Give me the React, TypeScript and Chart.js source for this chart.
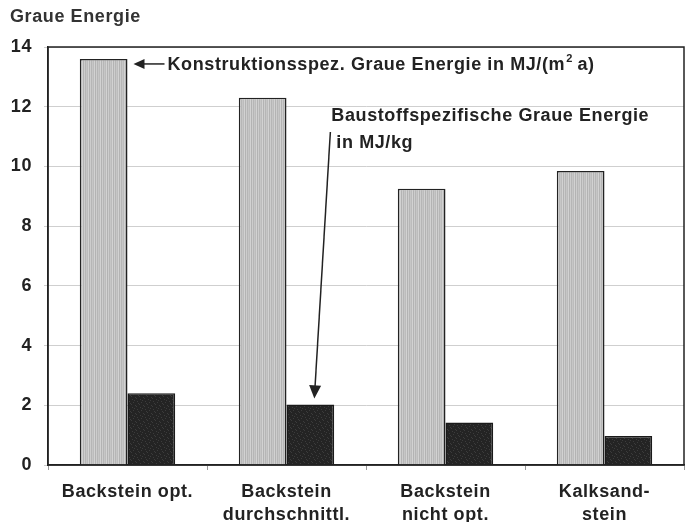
import React, { useEffect, useRef } from "react";
import { Chart, registerables } from "chart.js";

Chart.register(...registerables);

const categories: string[][] = [
  ["Backstein opt."],
  ["Backstein", "durchschnittl."],
  ["Backstein", "nicht opt."],
  ["Kalksand-", "stein"],
];
const konstruktionsspez: number[] = [13.6, 12.3, 9.25, 9.85];
const baustoffspez: number[] = [2.4, 2.03, 1.42, 0.97];
const yTicks: number[] = [0, 2, 4, 6, 8, 10, 12, 14];

const FONT = "'Liberation Sans', Arial, sans-serif";
const SPACING = "0.6px";

function makeStripePattern(): CanvasPattern | string {
  const c = document.createElement("canvas");
  c.width = 6;
  c.height = 2;
  const ctx = c.getContext("2d");
  if (!ctx) return "#c2c2c2";
  const cols = ["#cdcdcd", "#b6b6b6", "#c6c6c6", "#bcbcbc", "#d2d2d2", "#b3b3b3"];
  cols.forEach((col, i) => {
    ctx.fillStyle = col;
    ctx.fillRect(i, 0, 1, 2);
  });
  return ctx.createPattern(c, "repeat") || "#c2c2c2";
}

function makeSpecklePattern(): CanvasPattern | string {
  const c = document.createElement("canvas");
  c.width = 8;
  c.height = 8;
  const ctx = c.getContext("2d");
  if (!ctx) return "#262626";
  ctx.fillStyle = "#242424";
  ctx.fillRect(0, 0, 8, 8);
  ctx.fillStyle = "#3c3c3c";
  const dots = [[1, 1], [5, 2], [3, 4], [7, 5], [0, 6], [4, 7], [6, 0], [2, 3]];
  dots.forEach(([x, y]) => ctx.fillRect(x, y, 1, 1));
  return ctx.createPattern(c, "repeat") || "#262626";
}

function drawArrowHead(ctx: CanvasRenderingContext2D, fromX: number, fromY: number, toX: number, toY: number, len: number, half: number) {
  const ang = Math.atan2(toY - fromY, toX - fromX);
  ctx.beginPath();
  ctx.moveTo(toX, toY);
  ctx.lineTo(toX - len * Math.cos(ang) + half * Math.sin(ang), toY - len * Math.sin(ang) - half * Math.cos(ang));
  ctx.lineTo(toX - len * Math.cos(ang) - half * Math.sin(ang), toY - len * Math.sin(ang) + half * Math.cos(ang));
  ctx.closePath();
  ctx.fill();
}

const spacingPlugin = {
  id: "spacing",
  beforeDraw(chart: any) {
    (chart.ctx as any).letterSpacing = SPACING;
  },
  beforeUpdate(chart: any) {
    (chart.ctx as any).letterSpacing = SPACING;
  },
};

const annotationPlugin = {
  id: "annotations",
  afterDraw(chart: any) {
    const ctx: CanvasRenderingContext2D = chart.ctx;
    const area = chart.chartArea;
    ctx.save();
    (ctx as any).letterSpacing = SPACING;
    // frame
    ctx.strokeStyle = "#222";
    ctx.lineWidth = 1.5;
    ctx.strokeRect(area.left, area.top, area.right - area.left, area.bottom - area.top);

    // title
    ctx.fillStyle = "#333";
    ctx.font = `bold 18px ${FONT}`;
    ctx.textAlign = "left";
    ctx.textBaseline = "middle";
    ctx.fillText("Graue Energie", 10, 17);

    const metaA = chart.getDatasetMeta(0);
    const metaB = chart.getDatasetMeta(1);
    const barA = metaA.data[0];
    const barB = metaB.data[1];
    ctx.strokeStyle = "#222";
    ctx.fillStyle = "#222";
    ctx.lineWidth = 1.5;

    // arrow 1
    if (barA) {
      const tipX = barA.x + barA.width / 2 + 6;
      const tipY = barA.y + 5;
      ctx.beginPath();
      ctx.moveTo(tipX + 31, tipY);
      ctx.lineTo(tipX + 8, tipY);
      ctx.stroke();
      drawArrowHead(ctx, tipX + 20, tipY, tipX, tipY, 11, 5);
      ctx.font = `bold 18px ${FONT}`;
      ctx.fillStyle = "#222";
      const x0 = tipX + 34;
      const t1 = "Konstruktionsspez. Graue Energie in MJ/(m";
      ctx.fillText(t1, x0, tipY + 1);
      const w = ctx.measureText(t1).width;
      ctx.font = `bold 11px ${FONT}`;
      ctx.fillText("2", x0 + w + 1, tipY - 5);
      const w2 = ctx.measureText("2").width;
      ctx.font = `bold 18px ${FONT}`;
      ctx.fillText(" a)", x0 + w + w2, tipY + 1);
    }

    // arrow 2
    if (barB) {
      const tipX = barB.x + 4;
      const tipY = barB.y - 6;
      const startX = tipX + 16;
      const startY = 132;
      ctx.beginPath();
      ctx.moveTo(startX, startY);
      ctx.lineTo(tipX + 0.7, tipY - 12);
      ctx.stroke();
      drawArrowHead(ctx, startX, startY, tipX, tipY, 13, 6);
      ctx.font = `bold 18px ${FONT}`;
      ctx.fillStyle = "#222";
      ctx.textAlign = "left";
      ctx.fillText("Baustoffspezifische Graue Energie", startX + 1, 116);
      ctx.fillText("in MJ/kg", startX + 6, 143);
    }
    ctx.restore();
  },
};

export default function App() {
  const ref = useRef<HTMLCanvasElement | null>(null);
  useEffect(() => {
    if (!ref.current) return;
    const chart = new Chart(ref.current, {
      type: "bar",
      data: {
        labels: categories,
        datasets: [
          {
            label: "Konstruktionsspez. Graue Energie in MJ/(m² a)",
            data: konstruktionsspez,
            backgroundColor: makeStripePattern() as any,
            borderColor: "#222",
            borderWidth: 1.5,
            barPercentage: 1,
            categoryPercentage: 0.6,
          },
          {
            label: "Baustoffspezifische Graue Energie in MJ/kg",
            data: baustoffspez,
            backgroundColor: makeSpecklePattern() as any,
            borderColor: "#1a1a1a",
            borderWidth: 1.5,
            barPercentage: 1,
            categoryPercentage: 0.6,
          },
        ],
      },
      options: {
        animation: false,
        responsive: false,
        maintainAspectRatio: false,
        layout: { padding: { top: 47, right: 6, left: 0, bottom: 0 } },
        plugins: {
          legend: { display: false },
          tooltip: { enabled: false },
          title: { display: false },
        },
        scales: {
          x: {
            grid: { display: true, drawOnChartArea: false, offset: true, tickLength: 5, color: "#999" },
            border: { color: "#222", width: 1.5 },
            ticks: {
              color: "#222",
              padding: 10,
              font: { family: FONT, size: 18, weight: "bold", lineHeight: 1.3 },
              maxRotation: 0,
              autoSkip: false,
            },
            afterFit: (scale: any) => {
              scale.height = 57;
            },
          },
          y: {
            min: 0,
            max: 14,
            afterBuildTicks: (scale: any) => {
              scale.ticks = yTicks.map((v) => ({ value: v }));
            },
            grid: { color: "#cfcfcf", lineWidth: 1, tickLength: 4 },
            border: { color: "#222", width: 1.5 },
            ticks: {
              color: "#222",
              padding: 12,
              font: { family: FONT, size: 18, weight: "bold" },
            },
            afterFit: (scale: any) => {
              scale.width = 48;
            },
          },
        },
      },
      plugins: [spacingPlugin, annotationPlugin],
    });
    return () => chart.destroy();
  }, []);
  return (
    <div style={{ position: "fixed", left: 0, top: 0, width: 690, height: 522, background: "#fff" }}>
      <canvas ref={ref} width={690} height={522} style={{ width: 690, height: 522, display: "block" }} />
    </div>
  );
}
